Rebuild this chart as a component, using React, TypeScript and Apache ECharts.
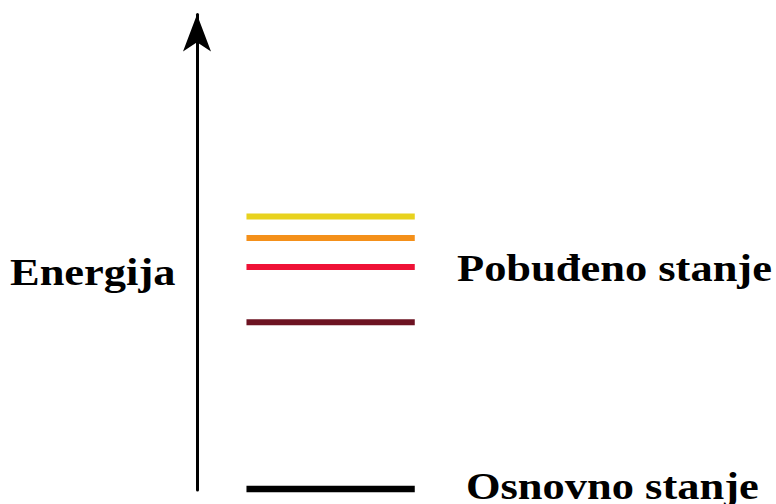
import React, { useEffect, useRef } from "react";
import * as echarts from "echarts";

// Energy levels (arbitrary units) and their colours
const levelNames = ["Osnovno", "Pobuđeno 1", "Pobuđeno 2", "Pobuđeno 3", "Pobuđeno 4"];
const levelEnergies = [0.2, 35.3, 46.9, 53.0, 57.5];
const levelColors = ["#000000", "#6d1322", "#ef1236", "#f4901a", "#e8d21e"];
const levelWidths = [6.5, 6, 6, 6, 6];
const levelStart = 0.97;
const levelEnd = 4.27;

const axisTitle = "Energija";
const excitedLabel = "Pobuđeno stanje";
const groundLabel = "Osnovno stanje";

export default function App() {
  const ref = useRef<HTMLDivElement>(null);
  useEffect(() => {
    if (!ref.current) return;
    const chart = echarts.init(ref.current, undefined, { renderer: "svg" });
    const font = '"Liberation Serif", "Times New Roman", serif';
    const textStyle = (text: string) => ({
      text,
      font: `bold 38px ${font}`,
      fill: "#000",
      textAlign: "left",
      textVerticalAlign: "middle",
    });
    chart.setOption({
      animation: false,
      backgroundColor: "#ffffff",
      grid: { left: 197, right: 69, top: 14.5, bottom: 14, containLabel: false, outerBoundsMode: "none" },
      xAxis: { type: "value", min: 0, max: 10, show: false },
      yAxis: {
        type: "value",
        min: 0,
        max: 100,
        axisLine: {
          show: true,
          onZero: false,
          symbol: ["none", "arrow"],
          symbolSize: [21, 37],
          lineStyle: { color: "#000", width: 3 },
        },
        axisTick: { show: false },
        axisLabel: { show: false },
        splitLine: { show: false },
      },
      series: levelEnergies.map((e, i) => ({
        name: levelNames[i],
        type: "line",
        symbol: "none",
        silent: true,
        lineStyle: { color: levelColors[i], width: levelWidths[i], cap: "butt" },
        data: [
          [levelStart, e],
          [levelEnd, e],
        ],
      })),
      graphic: [
        { type: "text", x: 10, y: 272, scaleX: 1.17, style: textStyle(axisTitle) },
        { type: "text", x: 457, y: 268, scaleX: 1.17, style: textStyle(excitedLabel) },
        { type: "text", x: 466, y: 486, scaleX: 1.17, style: textStyle(groundLabel) },
      ],
    });
    return () => chart.dispose();
  }, []);
  return (
    <div
      ref={ref}
      style={{ position: "fixed", left: 0, top: 0, width: 776, height: 504 }}
    />
  );
}
